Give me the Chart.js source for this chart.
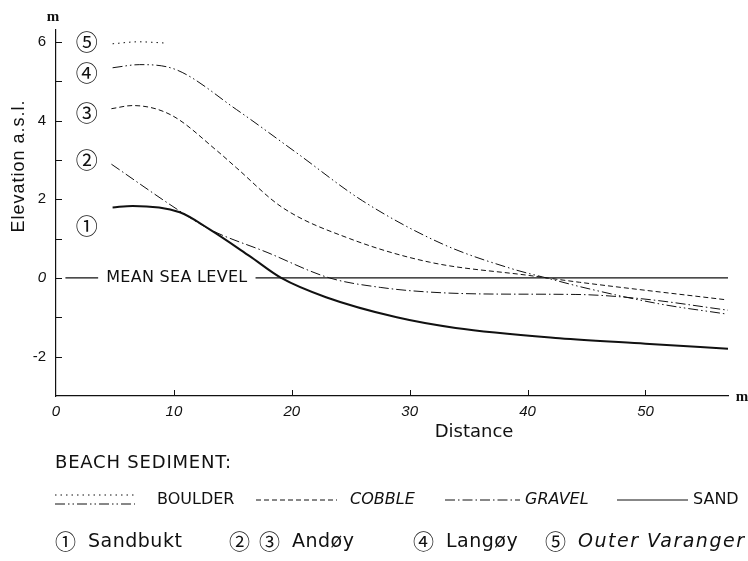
<!DOCTYPE html>
<html>
<head>
<meta charset="utf-8">
<script src="https://cdn.jsdelivr.net/npm/chart.js@4.4.1/dist/chart.umd.min.js"></script>
<style>
  html, body { margin: 0; padding: 0; background: #fff; }
  #wrap { width: 748px; height: 561px; }
</style>
</head>
<body>
<div id="wrap"><canvas id="chart" width="748" height="561"></canvas></div>
<script>
// Profile data (distance in m, elevation in m a.s.l.)
var SAND_X = [4.8, 6.5, 10.5, 13, 16.4, 19.1, 22.9, 28.9, 33.9, 42.7, 50, 57];
var SAND_Y = [1.79, 1.83, 1.67, 1.24, 0.56, 0, -0.49, -1.0, -1.27, -1.53, -1.67, -1.8];

var GRAVEL_X = [4.7, 10.5, 13, 17.9, 23.2, 27.5, 31.7, 37.3, 44.1, 49.7, 57];
var GRAVEL_Y = [2.89, 1.70, 1.24, 0.65, 0.0, -0.24, -0.36, -0.41, -0.42, -0.53, -0.82];

var COBBLE_X = [4.7, 6.5, 9.7, 13.7, 15.3, 19.2, 24.9, 31.7, 40.2, 44.4, 56.7];
var COBBLE_Y = [4.3, 4.38, 4.15, 3.22, 2.8, 1.79, 1.0, 0.40, 0.06, -0.11, -0.55];

var LANGOY_X = [4.8, 7.1, 10.2, 15.3, 20.4, 26, 32.8, 38.7, 41.6, 44.7, 51.2, 56.7];
var LANGOY_Y = [5.34, 5.42, 5.29, 4.28, 3.18, 1.96, 0.86, 0.23, 0.0, -0.24, -0.66, -0.91];

var BOULDER_X = [4.8, 7, 9.2];
var BOULDER_Y = [5.95, 6.0, 5.97];

var SEA_X = [0.8, 57];
var SEA_Y = [0, 0];
var SEA_LABEL = 'MEAN SEA LEVEL';
var SEA_LABEL_X = 10.25;

// circled profile numbers inside the plot
var MARKER_LABELS = ['\u2460', '\u2461', '\u2462', '\u2463', '\u2464'];
var MARKER_X = [2.6, 2.6, 2.6, 2.6, 2.6];
var MARKER_Y = [1.32, 3.01, 4.2, 5.22, 6.0];

// legend texts
var LEGEND_TITLE = 'BEACH SEDIMENT:';
var SEDIMENT_NAMES = ['BOULDER', 'COBBLE', 'GRAVEL', 'SAND'];
var SITE_NUMBERS = [['\u2460'], ['\u2461', '\u2462'], ['\u2463'], ['\u2464']];
var SITE_NAMES = ['Sandbukt', 'Andøy', 'Langøy', 'Outer Varanger'];

var X_MIN = 0, X_MAX = 57, Y_MIN = -3, Y_MAX = 6.3;

var INK = '#111';
var TEXT_FONT = '"DejaVu Sans", sans-serif';
var CIRCLE_FONT = '"Noto Sans CJK JP", "DejaVu Sans", sans-serif';

function pts(xs, ys) {
  return xs.map(function (x, i) { return { x: x, y: ys[i] }; });
}

function line(label, xs, ys, dash, width) {
  return {
    label: label,
    data: pts(xs, ys),
    showLine: true,
    borderColor: INK,
    borderWidth: width || 1,
    borderDash: dash || [],
    pointRadius: 0,
    cubicInterpolationMode: 'monotone',
    fill: false
  };
}

var DASH_BOULDER = [1.5, 4];
var DASH_COBBLE = [5, 3];
var DASH_GRAVEL = [10, 3, 1.5, 3];
var DASH_LANGOY = [10, 3, 1.5, 3, 1.5, 3];

function strokeSample(ctx, x0, x1, y, dash, width) {
  ctx.save();
  ctx.strokeStyle = INK;
  ctx.lineWidth = width || 1;
  ctx.setLineDash(dash);
  ctx.beginPath();
  ctx.moveTo(x0, y);
  ctx.lineTo(x1, y);
  ctx.stroke();
  ctx.restore();
}

// ticks pointing into the plot, labels, and the legend under the chart
var decorations = {
  id: 'decorations',
  afterDatasetsDraw: function (chart) {
    var ctx = chart.ctx, xs = chart.scales.x, ys = chart.scales.y;

    // gap in the sea-level line for its label
    ctx.save();
    ctx.font = '16px ' + TEXT_FONT;
    ctx.letterSpacing = '0.3px';
    var lx = xs.getPixelForValue(SEA_LABEL_X), ly = ys.getPixelForValue(0);
    var w = ctx.measureText(SEA_LABEL).width;
    ctx.fillStyle = '#fff';
    ctx.fillRect(lx - w / 2 - 8, ly - 9, w + 16, 18);
    ctx.fillStyle = INK;
    ctx.textAlign = 'center';
    ctx.textBaseline = 'middle';
    ctx.fillText(SEA_LABEL, lx, ly);
    ctx.restore();

    // circled numbers
    ctx.save();
    ctx.font = '22px ' + CIRCLE_FONT;
    ctx.fillStyle = INK;
    ctx.textAlign = 'center';
    ctx.textBaseline = 'middle';
    MARKER_LABELS.forEach(function (m, i) {
      ctx.fillText(m, xs.getPixelForValue(MARKER_X[i]), ys.getPixelForValue(MARKER_Y[i]));
    });
    ctx.restore();
  },
  afterDraw: function (chart) {
    var ctx = chart.ctx, xs = chart.scales.x, ys = chart.scales.y, area = chart.chartArea;

    ctx.save();
    ctx.strokeStyle = INK;
    ctx.lineWidth = 1;
    ctx.beginPath();
    ys.ticks.forEach(function (t) {
      var py = Math.round(ys.getPixelForValue(t.value)) + 0.5;
      if (t.value <= Y_MIN) return;
      ctx.moveTo(area.left, py);
      ctx.lineTo(area.left + 6, py);
    });
    xs.ticks.forEach(function (t) {
      if (t.value <= X_MIN) return;
      var px = Math.round(xs.getPixelForValue(t.value)) + 0.5;
      ctx.moveTo(px, area.bottom);
      ctx.lineTo(px, area.bottom - 6);
    });
    ctx.stroke();

    ctx.fillStyle = INK;
    ctx.textBaseline = 'middle';

    // unit labels
    ctx.font = 'bold 15px "Liberation Serif", serif';
    ctx.textAlign = 'center';
    ctx.fillText('m', area.left - 3, 17);
    ctx.fillText('m', area.right + 14, area.bottom + 1);

    // axis titles
    ctx.font = '18px ' + TEXT_FONT;
    ctx.fillText('Distance', 474, 432);
    ctx.save();
    ctx.translate(19, 166);
    ctx.rotate(-Math.PI / 2);
    ctx.font = '18px "Liberation Sans", sans-serif';
    ctx.letterSpacing = '1px';
    ctx.fillText('Elevation a.s.l.', 0, 0);
    ctx.restore();

    // legend
    ctx.textAlign = 'left';
    ctx.save();
    ctx.font = '18px ' + TEXT_FONT;
    ctx.letterSpacing = '0.8px';
    ctx.fillText(LEGEND_TITLE, 55, 463);
    ctx.restore();

    var rowY = 500;
    strokeSample(ctx, 55, 135, rowY - 5, DASH_BOULDER, 1);
    strokeSample(ctx, 55, 135, rowY + 4, DASH_LANGOY, 1);
    strokeSample(ctx, 256, 337, rowY, DASH_COBBLE, 1);
    strokeSample(ctx, 445, 520, rowY, DASH_GRAVEL, 1);
    strokeSample(ctx, 617, 688, rowY, [], 1);

    ctx.font = '16px ' + TEXT_FONT;
    ctx.fillText(SEDIMENT_NAMES[0], 157, rowY);
    ctx.fillText(SEDIMENT_NAMES[3], 693, rowY);
    ctx.font = 'italic 16px ' + TEXT_FONT;
    ctx.fillText(SEDIMENT_NAMES[1], 350, rowY);
    ctx.fillText(SEDIMENT_NAMES[2], 525, rowY);

    var siteX = [55, 229, 413, 545];
    var siteY = 541;
    SITE_NAMES.forEach(function (name, i) {
      var x = siteX[i];
      ctx.font = '21px ' + CIRCLE_FONT;
      SITE_NUMBERS[i].forEach(function (n) {
        ctx.fillText(n, x, siteY);
        x += ctx.measureText(n).width + 9;
      });
      ctx.save();
      ctx.font = (i === 3 ? 'italic ' : '') + '19px ' + TEXT_FONT;
      ctx.letterSpacing = i === 3 ? '1.5px' : '0.5px';
      ctx.fillText(name, x + 3, siteY + 1);
      ctx.restore();
    });
    ctx.restore();
  }
};

new Chart(document.getElementById('chart'), {
  type: 'scatter',
  data: {
    datasets: [
      line('Sea level', SEA_X, SEA_Y, [], 1.2),
      line('Boulder', BOULDER_X, BOULDER_Y, DASH_BOULDER, 1),
      line('Langøy', LANGOY_X, LANGOY_Y, DASH_LANGOY, 1),
      line('Cobble', COBBLE_X, COBBLE_Y, DASH_COBBLE, 1),
      line('Gravel', GRAVEL_X, GRAVEL_Y, DASH_GRAVEL, 1),
      line('Sand', SAND_X, SAND_Y, [], 2)
    ]
  },
  options: {
    responsive: false,
    animation: false,
    devicePixelRatio: 1,
    layout: { padding: { left: 0, top: 30, right: 20, bottom: 135 } },
    plugins: { legend: { display: false }, tooltip: { enabled: false } },
    scales: {
      x: {
        type: 'linear',
        min: X_MIN,
        max: X_MAX,
        grid: { display: false, drawTicks: false },
        border: { display: true, color: INK, width: 1.2 },
        ticks: {
          stepSize: 10,
          includeBounds: false,
          padding: 7,
          color: INK,
          font: { family: '"Liberation Sans", sans-serif', size: 15, style: 'italic' }
        },
        afterFit: function (s) { s.height = 30; }
      },
      y: {
        type: 'linear',
        min: Y_MIN,
        max: Y_MAX,
        grid: { display: false, drawTicks: false },
        border: { display: true, color: INK, width: 1.2 },
        ticks: {
          stepSize: 1,
          includeBounds: false,
          padding: 10,
          color: INK,
          callback: function (v) { return v % 2 === 0 ? String(v) : ''; },
          font: function (c) {
            var zero = c.tick && c.tick.value === 0;
            return { family: '"Liberation Sans", sans-serif', size: 15, style: zero ? 'italic' : 'normal' };
          }
        },
        afterFit: function (s) { s.width = 56; }
      }
    }
  },
  plugins: [decorations]
});
</script>
</body>
</html>
